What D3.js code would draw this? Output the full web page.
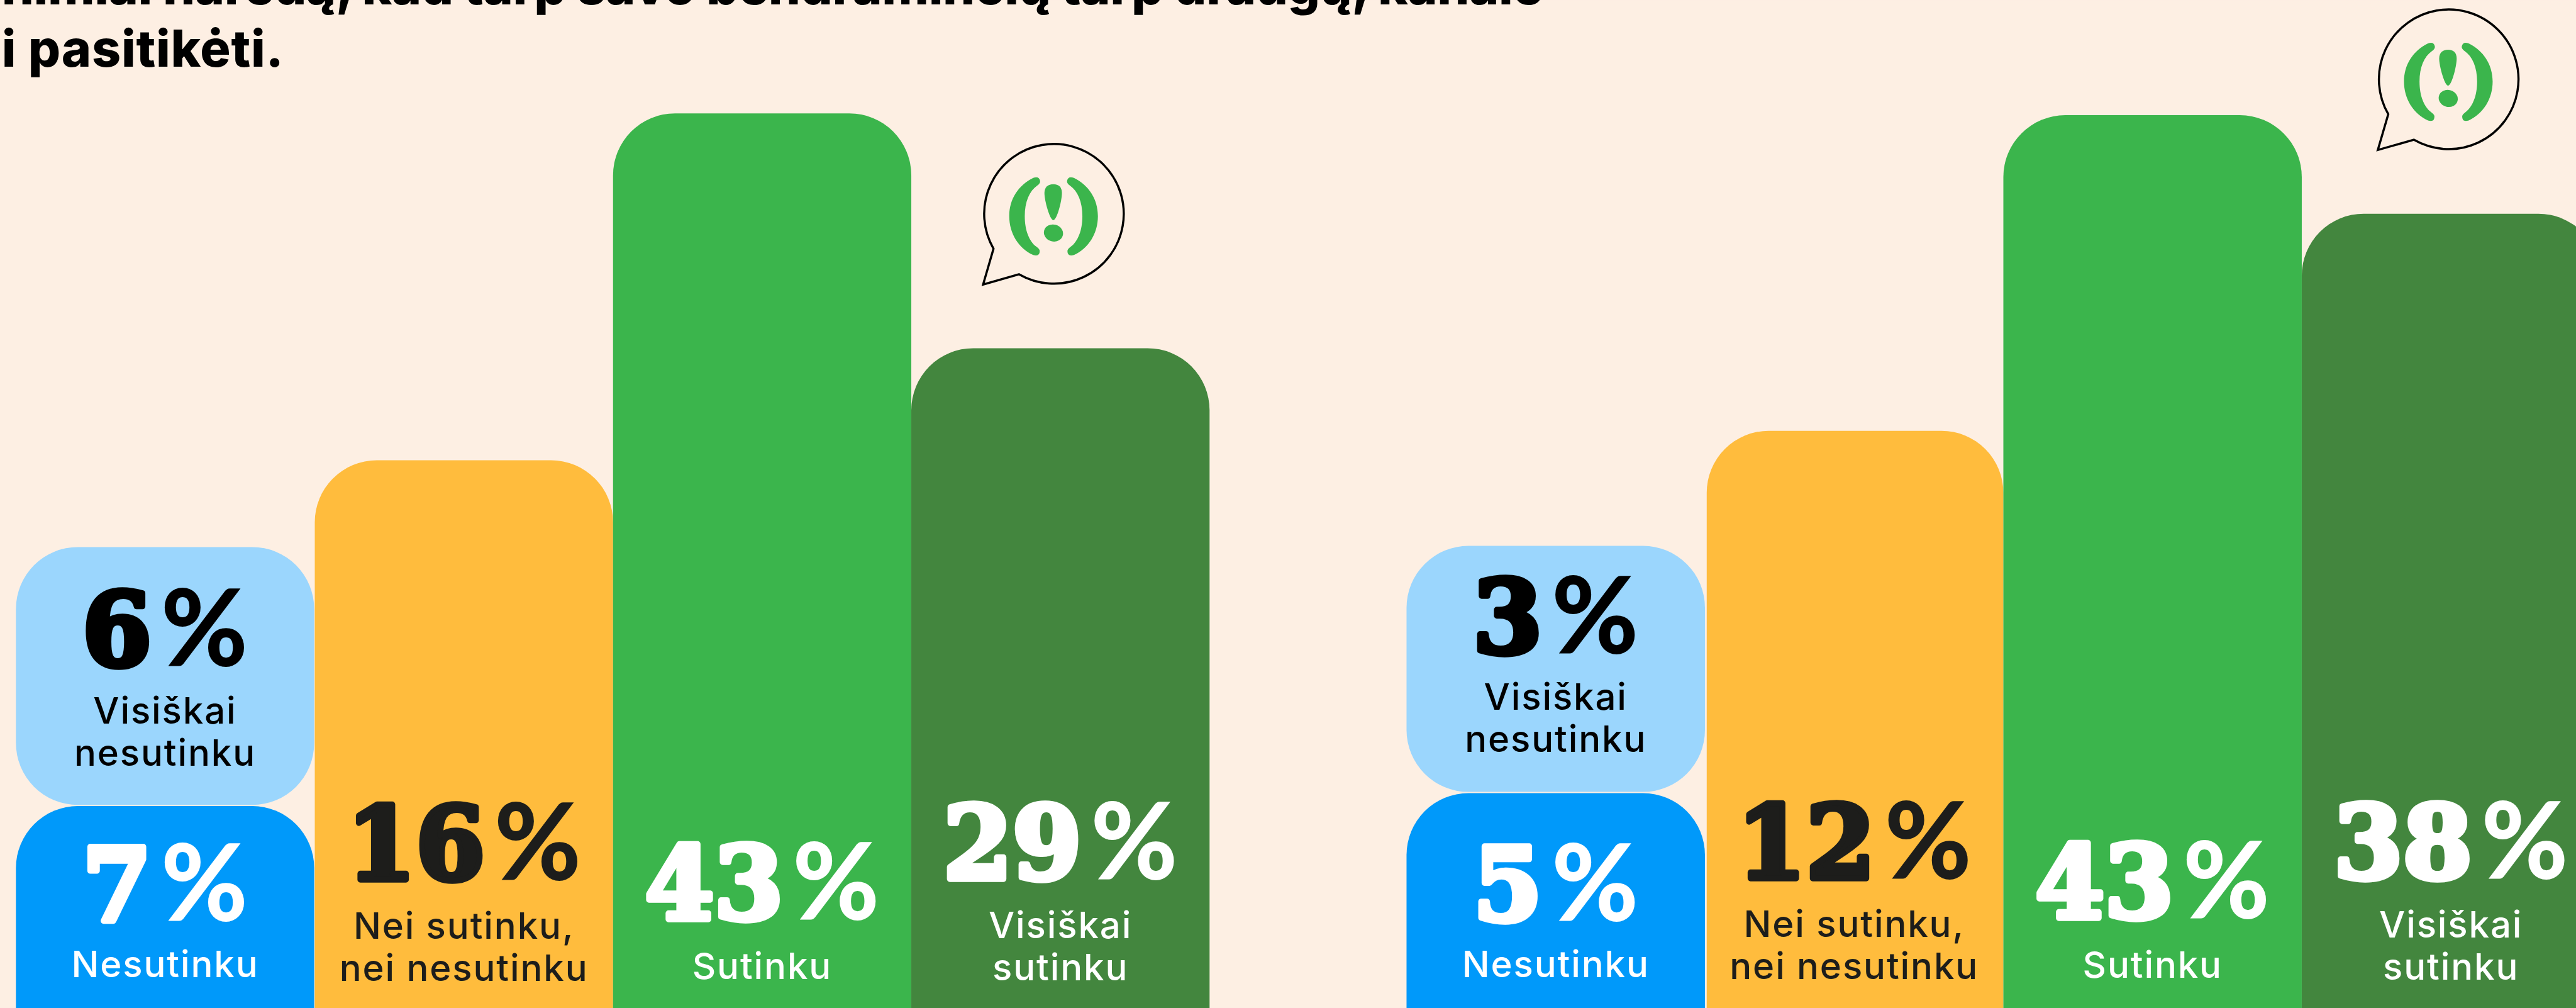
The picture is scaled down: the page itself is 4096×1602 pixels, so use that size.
<!DOCTYPE html>
<html lang="lt"><head><meta charset="utf-8">
<script src="https://cdn.jsdelivr.net/npm/d3@7"></script>
<style>html,body{margin:0;padding:0;background:#FDEFE3;overflow:hidden}svg{display:block}</style>
</head><body><div id="chart"></div>
<script>
// ---- data ----
const categories = ["Visiškai nesutinku","Nesutinku","Nei sutinku, nei nesutinku","Sutinku","Visiškai sutinku"];
const labelLines = [["Visiškai","nesutinku"],["Nesutinku"],["Nei sutinku,","nei nesutinku"],["Sutinku"],["Visiškai","sutinku"]];
const valuesLeft  = [6,7,16,43,29];
const valuesRight = [3,5,12,43,38];
const titleLines = ["nimiai narėdą, kad tarp savo bendraminčių tarp draugų, kanale","i pasitikėti."];
const colors = ["#9BD6FD","#0099FA","#FFBC3D","#3BB54C","#43863E"];
const numberColors = ["#000000","#FFFFFF","#1D1D1B","#FFFFFF","#FFFFFF"];
const labelColors  = ["#000000","#FFFFFF","#1D1D1B","#FFFFFF","#FFFFFF"];

// ---- layout (reference pixels) ----
const W=4368,H=1708,BG="#FDEFE3";
const columnOf=[0,0,1,2,3];
const panels=[
 {values:valuesLeft, xRange:[28,2051], firstNudge:-1, secondInset:0, yRange:[1900,1366,927,780,590,192],
  numY:[1132,1564,1495,1562,1494], labY:[1226,1656,1591,1659,1590], bubble:[1787,362]},
 {values:valuesRight,xRange:[2385,4409],firstNudge:0, secondInset:3, yRange:[1900,1344,925,730,362,195],
  numY:[1111,1564,1493,1560,1493], labY:[1203,1656,1588,1657,1589], bubble:[4152,134]}
];
const titleSpacing=[-0.5,0.8];
const R=105, GAP=2;
const svg=d3.select("#chart").append("svg").attr("width",4096).attr("height",1602).attr("viewBox",`0 0 ${W} ${H}`);
svg.append("rect").attr("width",W).attr("height",H).attr("fill",BG);

// title
svg.append("g").selectAll("text").data(titleLines).join("text")
  .attr("x",3).attr("y",(d,i)=>7+i*106)
  .attr("letter-spacing",(d,i)=>titleSpacing[i])
  .attr("font-family","Inter").attr("font-weight",800).attr("font-size",86).attr("fill","#000")
  .text(d=>d);

panels.forEach(p=>{
  const v=p.values;
  const x=d3.scaleBand().domain([0,1,2,3]).range(p.xRange).padding(0);
  // the drawn bars are not proportional in the source: piecewise scale through the stacked totals
  const y=d3.scaleLinear().domain([0,v[1],v[1]+v[0],v[2],v[4],v[3]]).range(p.yRange);
  const tops=[v[1]+v[0],v[1],v[2],v[3],v[4]];
  const bottoms=[v[1],0,0,0,0];
  const g=svg.append("g");
  const xOf=i=>x(columnOf[i])+(columnOf[i]===0?p.firstNudge:0);
  const inset=i=>columnOf[i]===1?p.secondInset:0;
  g.selectAll("rect").data(v).join("rect")
    .attr("x",(d,i)=>xOf(i)+inset(i)).attr("width",(d,i)=>x.bandwidth()-inset(i))
    .attr("y",(d,i)=>y(tops[i]))
    .attr("height",(d,i)=>y(bottoms[i])-y(tops[i])-(i===0?GAP:0))
    .attr("rx",R).attr("ry",R)
    .attr("fill",(d,i)=>colors[i]);
  // numbers
  const num=g.selectAll("text.num").data(v).join("text").attr("class","num")
    .attr("transform",(d,i)=>`translate(${xOf(i)+x.bandwidth()/2},${p.numY[i]-4}) scale(0.98,1)`)
    .attr("text-anchor","middle").attr("fill",(d,i)=>numberColors[i]);
  num.append("tspan").attr("font-family","DejaVu Serif").attr("font-weight",700)
    .attr("font-size",172).attr("stroke",(d,i)=>numberColors[i]).attr("stroke-width",10)
    .attr("stroke-linejoin","round").text(d=>d);
  num.append("tspan").attr("font-family","Lato").attr("font-weight",900).attr("dx",16)
    .attr("font-size",182).text("%");
  // labels
  v.forEach((d,i)=>{
    g.append("g").selectAll("text").data(labelLines[i]).join("text")
     .attr("x",xOf(i)+x.bandwidth()/2).attr("y",(t,j)=>p.labY[i]+j*71.5)
     .attr("text-anchor","middle").attr("font-family","Inter").attr("font-weight",500)
     .attr("letter-spacing",2).attr("font-size",62).attr("fill",labelColors[i]).text(t=>t);
  });
  // speech bubble
  const b=svg.append("g").attr("transform",`translate(${p.bubble[0]},${p.bubble[1]}) scale(${1/3})`);
  const r=355;
  const P1=[193-500,603-425],P2=[323-500,733-425];
  b.append("path").attr("d",`M${P1} L${140-500},${785-425} L${P2} A${r},${r} 0 1 0 ${P1} Z`)
    .attr("fill",BG).attr("stroke","#000").attr("stroke-width",11).attr("stroke-linejoin","miter");
  const inner=b.append("g").attr("transform","translate(-500,-425)").attr("fill",colors[3]);
  const paren="M395,243C320,280 273,350 273,437C273,525 320,600 395,635Q428,645 428,615Q428,605 410,592C375,565 352,510 352,437C352,365 375,310 415,282Q432,270 430,258Q425,233 395,243Z";
  inner.append("path").attr("d",paren);
  inner.append("path").attr("d",paren).attr("transform","translate(997,0) scale(-1,1)");
  inner.append("path").attr("d","M497,275C525,275 541,290 541,320C541,360 515,458 497,458C480,458 452,360 452,320C452,290 470,275 497,275Z");
  inner.append("ellipse").attr("cx",498).attr("cy",523).attr("rx",49).attr("ry",43).attr("transform","rotate(15 498 523)");
});
</script></body></html>
